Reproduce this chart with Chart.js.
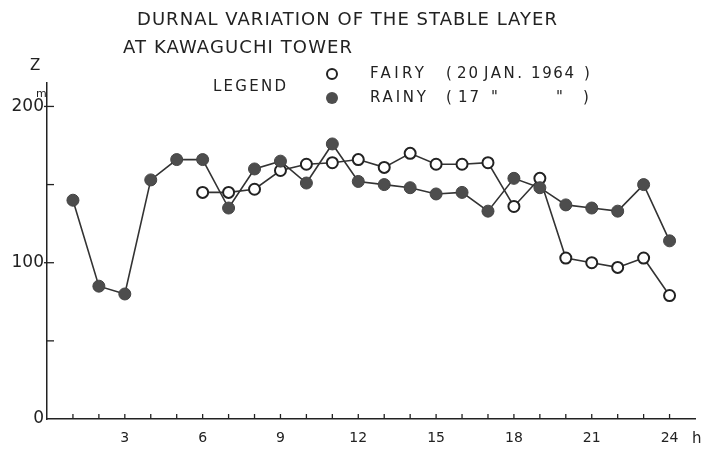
<!DOCTYPE html>
<html>
<head>
<meta charset="utf-8">
<script src="https://cdn.jsdelivr.net/npm/chart.js@4.4.0/dist/chart.umd.min.js"></script>
<style>
  body { margin: 0; background: #fff; }
  canvas { display: block; }
</style>
</head>
<body>
<canvas id="chart" width="703" height="450"></canvas>
<script>
// data (height of the stable layer, m)
const rainyHours = [1, 2, 3, 4, 5, 6, 7, 8, 9, 10, 11, 12, 13, 14, 15, 16, 17, 18, 19, 20, 21, 22, 23, 24];
const rainyHeights = [140, 85, 80, 153, 166, 166, 135, 160, 165, 151, 176, 152, 150, 148, 144, 145, 133, 154, 148, 137, 135, 133, 150, 114];
const fairyHours = [6, 7, 8, 9, 10, 11, 12, 13, 14, 15, 16, 17, 18, 19, 20, 21, 22, 23, 24];
const fairyHeights = [145, 145, 147, 159, 163, 164, 166, 161, 170, 163, 163, 164, 136, 154, 103, 100, 97, 103, 79];

// tick labels
const xLabelled = [3, 6, 9, 12, 15, 18, 21, 24];
const yLabelled = [0, 100, 200];

const titleLines = ['DURNAL VARIATION OF THE STABLE LAYER', 'AT KAWAGUCHI TOWER'];

const ink = '#222';

function points(xs, ys) {
    return xs.map((x, i) => ({x: x, y: ys[i]}));
}

// draw text stretched to a given width
function fitText(ctx, text, x, y, width, font) {
    ctx.save();
    ctx.font = font;
    ctx.fillStyle = ink;
    ctx.textBaseline = 'middle';
    ctx.textAlign = 'left';
    ctx.letterSpacing = '0px';
    const w = ctx.measureText(text).width;
    const gap = text.length > 1 ? Math.max(0, (width - w) / (text.length - 1)) : 0;
    ctx.letterSpacing = gap + 'px';
    ctx.fillText(text, x, y);
    ctx.restore();
}

// small tick marks inside the axes, and the hand lettering
const decorations = {
    id: 'decorations',
    afterDraw(chart) {
        const ctx = chart.ctx;
        const xs = chart.scales.x;
        const ys = chart.scales.y;
        const area = chart.chartArea;

        ctx.save();
        ctx.strokeStyle = ink;
        ctx.lineWidth = 1.3;
        xs.ticks.forEach(t => {
            if (t.value <= 0 || t.value > 24) return;
            const px = xs.getPixelForValue(t.value);
            ctx.beginPath();
            ctx.moveTo(px, area.bottom);
            ctx.lineTo(px, area.bottom - 5);
            ctx.stroke();
        });
        ys.ticks.forEach(t => {
            if (t.value <= 0) return;
            const py = ys.getPixelForValue(t.value);
            ctx.beginPath();
            ctx.moveTo(area.left - (t.value % 100 === 0 ? 3 : 0), py);
            ctx.lineTo(area.left + 7, py);
            ctx.stroke();
        });
        ctx.restore();

        const f15 = '15px "DejaVu Sans"';
        fitText(ctx, titleLines[0], 137, 20, 420, '18px "DejaVu Sans"');
        fitText(ctx, titleLines[1], 123, 48, 229, '18px "DejaVu Sans"');
        fitText(ctx, 'LEGEND', 213, 87, 73, f15);
        fitText(ctx, 'FAIRY', 370, 74, 54, f15);
        fitText(ctx, '(', 446, 74, 5, f15);
        fitText(ctx, '20', 457, 74, 21, f15);
        fitText(ctx, 'JAN.', 484, 74, 38, f15);
        fitText(ctx, '1964', 531, 74, 43, f15);
        fitText(ctx, ')', 584, 74, 5, f15);
        fitText(ctx, 'RAINY', 370, 98, 56, f15);
        fitText(ctx, '(', 446, 98, 5, f15);
        fitText(ctx, '17', 458, 98, 21, f15);
        fitText(ctx, '"', 491, 98, 6, f15);
        fitText(ctx, '"', 556, 98, 6, f15);
        fitText(ctx, ')', 583, 98, 5, f15);
        fitText(ctx, 'Z', 30, 66, 10, '15px "DejaVu Sans"');
        fitText(ctx, 'm', 36, 94, 9, '11px "DejaVu Sans"');
        fitText(ctx, 'h', 692, 439, 9, '15px "DejaVu Sans"');

        // legend symbols
        ctx.save();
        ctx.beginPath();
        ctx.arc(332, 74, 5, 0, Math.PI * 2);
        ctx.fillStyle = '#fff';
        ctx.fill();
        ctx.lineWidth = 2;
        ctx.strokeStyle = ink;
        ctx.stroke();
        ctx.beginPath();
        ctx.arc(332, 98, 6, 0, Math.PI * 2);
        ctx.fillStyle = '#4d4d4d';
        ctx.fill();
        ctx.restore();
    }
};

const ctx = document.getElementById('chart').getContext('2d');
const chart = new Chart(ctx, {
    type: 'line',
    data: {
        datasets: [{
            label: 'RAINY',
            data: points(rainyHours, rainyHeights),
            borderColor: '#333',
            borderWidth: 1.6,
            pointRadius: 6,
            pointBackgroundColor: '#4d4d4d',
            pointBorderColor: '#444',
            pointBorderWidth: 1,
            tension: 0
        }, {
            label: 'FAIRY',
            data: points(fairyHours, fairyHeights),
            borderColor: '#333',
            borderWidth: 1.6,
            pointRadius: 5.5,
            pointBackgroundColor: '#fff',
            pointBorderColor: ink,
            pointBorderWidth: 2,
            tension: 0
        }]
    },
    options: {
        responsive: false,
        animation: false,
        layout: {padding: {left: 0, right: 4, top: 83, bottom: 0}},
        plugins: {
            legend: {display: false},
            tooltip: {enabled: false}
        },
        scales: {
            x: {
                type: 'linear',
                min: 0,
                max: 25,
                // invisible outer ticks only make room for the labels
                grid: {display: true, drawOnChartArea: false, drawTicks: true, tickLength: 11, color: 'rgba(0,0,0,0)'},
                border: {display: true, color: ink, width: 1.5},
                afterFit: s => { s.height = 31; },
                ticks: {
                    stepSize: 1,
                    includeBounds: false,
                    autoSkip: false,
                    maxRotation: 0,
                    padding: 0,
                    color: ink,
                    font: {family: 'DejaVu Sans', size: 14},
                    callback: v => xLabelled.includes(v) ? String(v) : ''
                }
            },
            y: {
                min: 0,
                max: 215,
                grid: {display: false, drawTicks: false},
                border: {display: true, color: ink, width: 1.5},
                afterFit: s => { s.width = 47; },
                ticks: {
                    stepSize: 50,
                    includeBounds: false,
                    padding: 3,
                    color: ink,
                    font: {family: 'DejaVu Sans', size: 17},
                    callback: v => yLabelled.includes(v) ? String(v) : ''
                }
            }
        }
    },
    plugins: [decorations]
});
</script>
</body>
</html>
